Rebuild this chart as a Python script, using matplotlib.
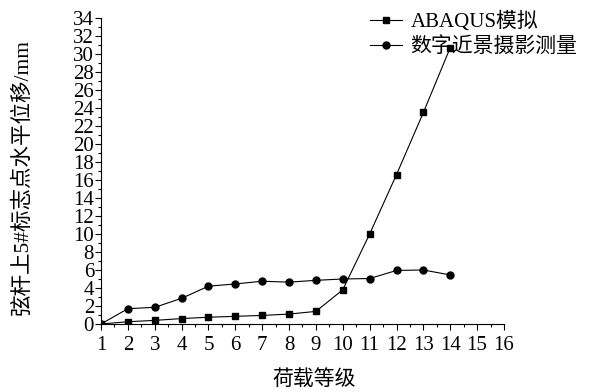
import matplotlib.pyplot as plt
from matplotlib.ticker import MultipleLocator

plt.rcParams['font.family'] = ['Liberation Serif', 'Noto Sans CJK SC', 'DejaVu Sans']
plt.rcParams['axes.unicode_minus'] = False

# 荷载等级与位移数据
levels = [1, 2, 3, 4, 5, 6, 7, 8, 9, 10, 11, 12, 13, 14]
abaqus = [0, 0.25, 0.4, 0.6, 0.75, 0.85, 0.95, 1.1, 1.4, 3.8, 10.0, 16.6, 23.5, 30.7]
photo = [0, 1.7, 1.85, 2.85, 4.2, 4.45, 4.75, 4.65, 4.85, 5.0, 5.05, 5.95, 6.0, 5.45]
x_ticks = list(range(1, 17))
y_ticks = list(range(0, 35, 2))

fig = plt.figure(figsize=(5.92, 3.91), dpi=100)
ax = fig.add_axes([0.1706, 0.1714, 0.6807, 0.7826])

ax.plot(levels, abaqus, color='black', lw=0.8, marker='s', ms=5, label='ABAQUS模拟')
ax.plot(levels, photo, color='black', lw=0.8, marker='o', ms=5, label='数字近景摄影测量')

ax.set_xlim(1, 16)
ax.set_ylim(0, 34)
ax.set_xticks(x_ticks)
ax.set_yticks(y_ticks)
ax.xaxis.set_minor_locator(MultipleLocator(0.5))
ax.yaxis.set_minor_locator(MultipleLocator(1))
ax.tick_params(which='major', length=4, width=0.8, labelsize=15, direction='out')
ax.tick_params(which='minor', length=2.5, width=0.8, direction='out')
ax.tick_params(axis='x', pad=5)
ax.tick_params(axis='y', pad=1)

for s in ['top', 'right']:
    ax.spines[s].set_visible(False)
for s in ['left', 'bottom']:
    ax.spines[s].set_linewidth(0.8)

ax.set_xlabel('荷载等级', fontsize=15)
ax.xaxis.set_label_coords(0.53, -0.15)
ax.set_ylabel('弦杆上5#标志点水平位移/mm', fontsize=15.5)
ax.yaxis.set_label_coords(-0.17, 0.48)

ax.legend(loc='upper left', bbox_to_anchor=(0.625, 0.97), bbox_transform=fig.transFigure,
          frameon=False, fontsize=15, handlelength=1.55, handletextpad=0.4,
          labelspacing=0.25, borderpad=0, borderaxespad=0)

fig.savefig('out.png', dpi=100)
